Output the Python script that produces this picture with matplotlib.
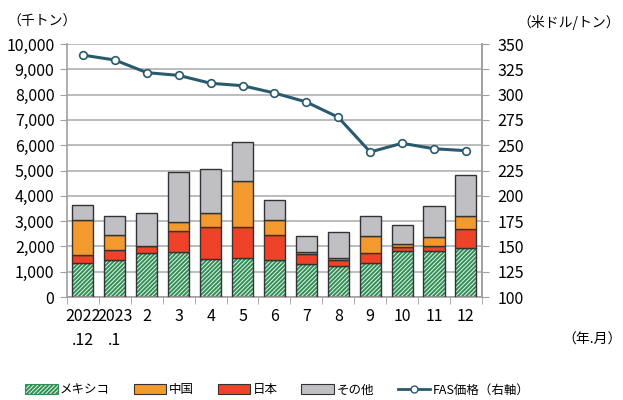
import numpy as np
import matplotlib
matplotlib.use("Agg")
import matplotlib.pyplot as plt
from matplotlib.patches import Patch
from matplotlib.lines import Line2D

plt.rcParams['font.family'] = ['Liberation Sans Narrow', 'Noto Sans CJK JP', 'DejaVu Sans']
plt.rcParams['hatch.linewidth'] = 1.4

months = ["2022\n.12", "2023\n.1", "2", "3", "4", "5", "6", "7", "8", "9", "10", "11", "12"]
mexico = [1330, 1450, 1725, 1765, 1490, 1540, 1450, 1300, 1225, 1330, 1805, 1805, 1935]
japan = [320, 395, 275, 830, 1265, 1215, 990, 385, 225, 395, 185, 195, 765]
china = [1380, 615, 10, 365, 555, 1815, 590, 95, 105, 700, 90, 360, 490]
other = [620, 730, 1300, 1990, 1760, 1540, 800, 645, 1000, 765, 750, 1235, 1630]
fas = [339, 334.2, 321.7, 319, 311.2, 308.8, 301.6, 292.7, 277.6, 243.3, 251.9, 246.5, 244.6]

c_mex = '#2f8f55'
c_china = '#F39A2E'
c_japan = '#EE4229'
c_other = '#C0C0C4'
c_line = '#2A5A6E'
edge = '#333333'

fig = plt.figure(figsize=(6.23, 4.0), dpi=100)
ax = fig.add_axes([0.1075, 0.2575, 0.666, 0.6325])
x = np.arange(len(months))
w = 0.66

mexico = np.array(mexico)
japan = np.array(japan)
china = np.array(china)
other = np.array(other)

ax.bar(x, mexico, w, color='#e6f3ea', edgecolor=c_mex, hatch='////////', linewidth=0, zorder=2)
ax.bar(x, mexico, w, fill=False, edgecolor=edge, linewidth=1, zorder=3)
b1 = mexico
ax.bar(x, japan, w, bottom=b1, color=c_japan, edgecolor=edge, linewidth=1, zorder=3)
b2 = b1 + japan
ax.bar(x, china, w, bottom=b2, color=c_china, edgecolor=edge, linewidth=1, zorder=3)
b3 = b2 + china
ax.bar(x, other, w, bottom=b3, color=c_other, edgecolor=edge, linewidth=1, zorder=3)

ax.set_xlim(-0.5, len(months) - 0.5)
ax.set_ylim(0, 10000)
ax.set_yticks(range(0, 10001, 1000))
ax.set_yticklabels([f"{v:,}" for v in range(0, 10001, 1000)])
ax.yaxis.grid(True, color='#b0b0b0', linewidth=1.2, zorder=0)
ax.set_axisbelow(True)
ax.set_xticks(x)
ax.set_xticklabels(months, linespacing=1.55, va='top')
ax.set_xticks(np.arange(-0.5, len(months), 1), minor=True)
ax.tick_params(axis='x', which='major', length=0, pad=8, labelsize=11.5)
ax.tick_params(axis='x', which='minor', length=5, color='#a0a0a0')
ax.tick_params(axis='y', length=5, color='#a0a0a0', labelsize=11.5, pad=4)
for s in ['top']:
    ax.spines[s].set_visible(False)
for s in ['left', 'bottom', 'right']:
    ax.spines[s].set_color('#a0a0a0')
    ax.spines[s].set_linewidth(1.2)

ax2 = ax.twinx()
ax2.set_ylim(100, 350)
ax2.set_yticks(range(100, 351, 25))
ax2.plot(x, fas, color=c_line, linewidth=2.2, marker='o', markersize=5.5,
         markerfacecolor='white', markeredgecolor=c_line, markeredgewidth=1.2, zorder=5)
ax2.tick_params(axis='y', length=5, color='#a0a0a0', labelsize=11.5, pad=6)
for s in ['top', 'left', 'bottom']:
    ax2.spines[s].set_visible(False)
ax2.spines['right'].set_color('#a0a0a0')
ax2.spines['right'].set_linewidth(1.2)

fig.text(0.012, 0.945, "（千トン）", fontsize=10, ha='left', va='center')
fig.text(0.995, 0.945, "（米ドル/トン）", fontsize=10, ha='right', va='center')
fig.text(0.998, 0.152, "（年.月）", fontsize=10, ha='right', va='center')

handles = [
    Patch(facecolor='#e6f3ea', edgecolor=c_mex, hatch='////////', linewidth=0.8),
    Patch(facecolor=c_china, edgecolor=edge, linewidth=0.8),
    Patch(facecolor=c_japan, edgecolor=edge, linewidth=0.8),
    Patch(facecolor=c_other, edgecolor=edge, linewidth=0.8),
    Line2D([0], [0], color=c_line, linewidth=2, marker='o', markersize=5,
           markerfacecolor='white', markeredgecolor=c_line),
]
labels = ["メキシコ", "中国", "日本", "その他", "FAS価格（右軸）"]
fig.legend(handles, labels, loc='center', bbox_to_anchor=(0.445, 0.025), ncol=5,
           frameon=False, fontsize=9, handlelength=2.6, handleheight=0.9,
           handletextpad=0.2, columnspacing=1.9)

fig.savefig("out.png", dpi=100)
